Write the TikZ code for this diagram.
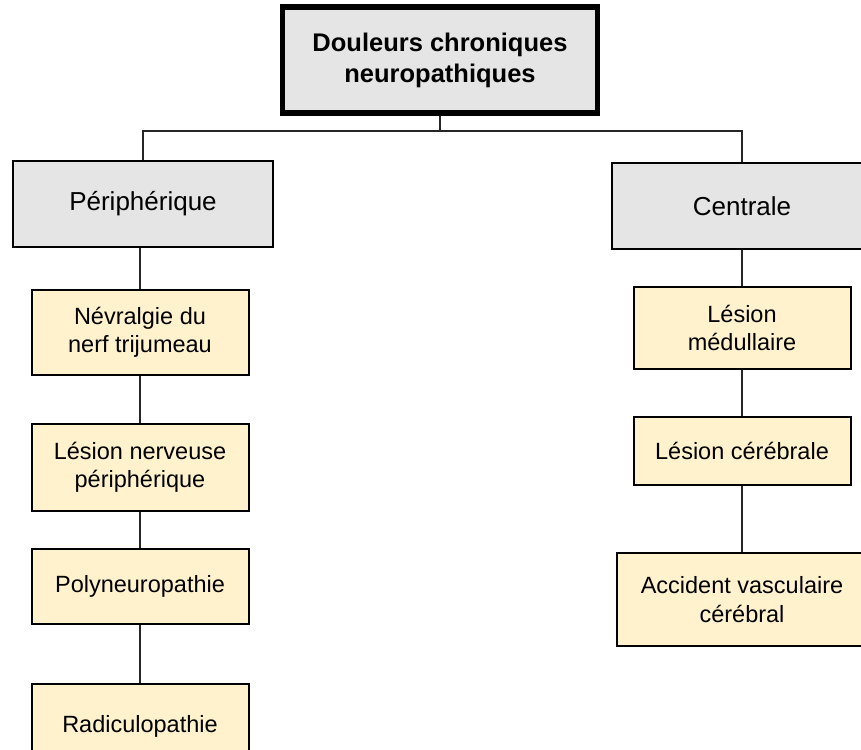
\documentclass[tikz,border=0pt]{standalone}
\usepackage{fontspec}
\setmainfont{Liberation Sans}
\usepackage{tikz}
\usetikzlibrary{positioning}
\definecolor{gris}{HTML}{E5E5E5}
\definecolor{jaune}{HTML}{FFF2CC}
\tikzset{
  racine/.style={
    rectangle, minimum width=315pt, minimum height=106pt,
    align=center, draw=black, line width=5.5pt, fill=gris,
    font=\bfseries\fontsize{25.5}{31}\selectfont
  },
  categorie/.style={
    rectangle, minimum width=260pt, minimum height=86pt,
    align=center, draw=black, line width=2pt, fill=gris,
    font=\fontsize{26}{30}\selectfont
  },
  forme/.style={
    rectangle, minimum width=217pt, minimum height=85pt,
    align=center, draw=black, line width=2pt, fill=jaune,
    font=\fontsize{23.5}{28.5}\selectfont
  },
  lien/.style={
    line width=1.8pt, color=black!85
  }
}

\begin{document}
\begin{tikzpicture}[
  x=1pt, y=1pt,
  node distance=40pt
]
\useasboundingbox (0,0) rectangle (861,-749);
% racine
\node[racine] (douleur) at (440,-60) {Douleurs chroniques\\neuropathiques};
% deux categories
\node[categorie] (peri) at (143,-204) {Périphérique};
\node[categorie] (centr) at (742,-206) {Centrale};
% colonne gauche
\node[forme, below=41pt of peri, xshift=-3pt] (nevralgie) {Névralgie du\\nerf trijumeau};
\node[forme, minimum height=87pt, below=47pt of nevralgie] (lesnerv) {Lésion nerveuse\\périphérique};
\node[forme, minimum height=75pt, below=36pt of lesnerv] (poly) {Polyneuropathie};
\node[forme, below=58pt of poly] (radic) {Radiculopathie};
% colonne droite
\node[forme, minimum height=82pt, below=36pt of centr] (medul) {Lésion\\médullaire};
\node[forme, minimum height=68pt, below=46pt of medul] (cereb) {Lésion cérébrale};
\node[forme, minimum width=250pt, minimum height=93pt, below=66pt of cereb] (avc) {Accident vasculaire\\cérébral};

\draw[lien] (douleur.south) -- ++(0,-15) -| (peri.north);
\draw[lien] (douleur.south) -- ++(0,-15) -| (centr.north);
\draw[lien] (nevralgie.north) -- (nevralgie.north |- peri.south);
\draw[lien] (nevralgie) -- (lesnerv);
\draw[lien] (lesnerv) -- (poly);
\draw[lien] (poly) -- (radic);
\draw[lien] (medul.north) -- (medul.north |- centr.south);
\draw[lien] (medul) -- (cereb);
\draw[lien] (cereb) -- (avc);
\end{tikzpicture}
\end{document}
